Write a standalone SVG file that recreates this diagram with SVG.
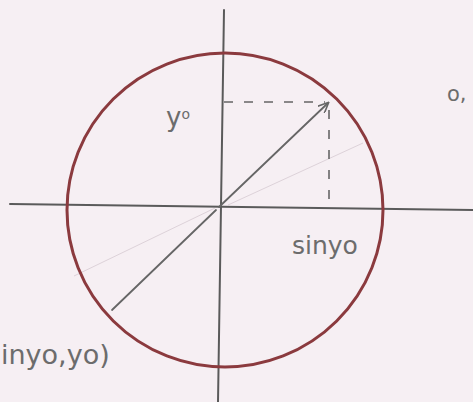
<svg xmlns="http://www.w3.org/2000/svg" width="473" height="402" viewBox="0 0 473 402">
<defs>
<style>
.ax{stroke:#5a5a5a;stroke-width:2;fill:none;stroke-linecap:round}
.ln{stroke:#666;stroke-width:1.8;fill:none;stroke-linecap:round}
.ds{stroke:#666;stroke-width:1.6;fill:none;stroke-dasharray:9 11}
.fa{stroke:#ddd2d9;stroke-width:1;fill:none}
.circ{stroke:#8b3a3e;stroke-width:3;fill:none}
.t{font-family:"DejaVu Sans","Liberation Sans",sans-serif;fill:#6c6c6c}
</style>
<marker id="ah" markerWidth="12" markerHeight="10" refX="10" refY="5" orient="auto" markerUnits="userSpaceOnUse">
<path d="M0,0 L11,5 L0,10" fill="none" stroke="#666" stroke-width="1.6"/>
</marker>
</defs>
<rect width="473" height="402" fill="#f6eff3"/>
<g id="connectors">
<line class="fa" x1="228" y1="205" x2="363" y2="143"/>
<line class="fa" x1="74" y1="276" x2="215" y2="208"/>
<line class="ax" x1="224" y1="10" x2="218" y2="402"/>
<line class="ax" x1="10" y1="204" x2="473" y2="210"/>
<line class="ln" x1="219" y1="207" x2="328" y2="103" marker-end="url(#ah)"/>
<line class="ln" x1="216" y1="210" x2="112" y2="310"/>
<line class="ds" x1="224" y1="102" x2="325" y2="102"/>
<line class="ds" x1="329" y1="110" x2="329" y2="208" stroke-dasharray="8 16"/>
</g>
<g id="circle">
<ellipse class="circ" cx="225" cy="210" rx="158" ry="157"/>
</g>
<g id="label-y0"><text class="t" x="166" y="126" font-size="26">y<tspan font-size="14" dy="-7">o</tspan></text></g>
<g id="label-siny0"><text class="t" x="292" y="254" font-size="25">sinyo</text></g>
<g id="label-point"><text class="t" x="1" y="364" font-size="27">inyo,yo)</text></g>
<g id="label-right"><text class="t" x="447" y="101" font-size="21">o,</text></g>
</svg>
